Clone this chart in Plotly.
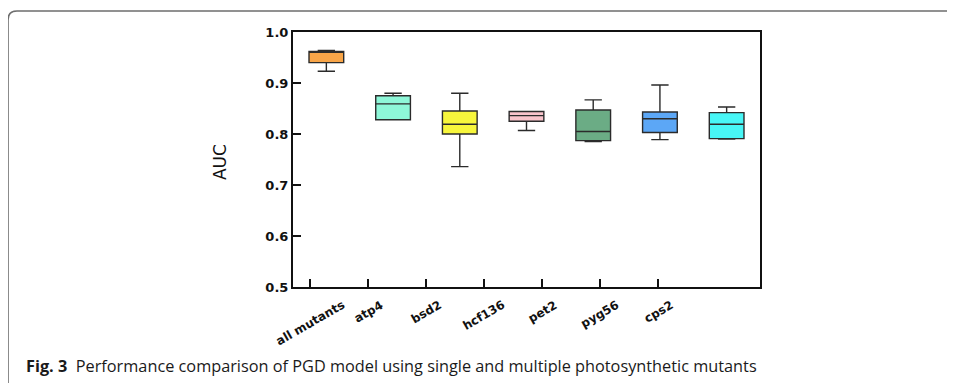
import numpy as np
import plotly.graph_objects as go

categories = ["all mutants", "atp4", "bsd2", "hcf136", "pet2", "pyg56", "cps2"]
lower_whisker = [0.923, 0.828, 0.736, 0.807, 0.785, 0.789, 0.790]
q1_values = [0.940, 0.828, 0.800, 0.825, 0.787, 0.803, 0.791]
median_values = [0.961, 0.859, 0.819, 0.836, 0.805, 0.830, 0.819]
q3_values = [0.962, 0.875, 0.845, 0.844, 0.847, 0.843, 0.842]
upper_whisker = [0.964, 0.880, 0.880, 0.844, 0.867, 0.896, 0.853]
box_colors = ["#F8A548", "#8EF7D8", "#F7F63C", "#F8C3CB", "#6BAC85", "#5CA7F6", "#48F6F6"]
y_ticks = [0.5, 0.6, 0.7, 0.8, 0.9, 1.0]

# page body has an 8px margin: work in screen pixels and shift by OFF
OFF = 8
W, H = 955 - OFF, 383 - OFF
ML, MR, MT, MB = 293 - OFF, 203 - OFF, 32 - OFF, 96
PW, PH = W - ML - MR, H - MT - MB


def px_x(p):
    return (p - OFF - ML) / PW


def px_y(p):
    return (H - MB - (p - OFF)) / PH


fig = go.Figure()
for i, cat in enumerate(categories):
    fig.add_trace(go.Box(
        x=[i + 1],
        q1=[q1_values[i]], median=[median_values[i]], q3=[q3_values[i]],
        lowerfence=[lower_whisker[i]], upperfence=[upper_whisker[i]],
        name=cat, boxpoints=False, width=0.52, whiskerwidth=0.5,
        fillcolor=box_colors[i],
        line=dict(color="#2b2b2b", width=1.4),
        showlegend=False, hoverinfo="skip",
    ))

# tick marks (misaligned with boxes as in the original figure)
tick_pos = list(np.linspace(0.76, 5.975, len(categories)))

annotations = []
for tp, cat in zip(tick_pos, categories):
    annotations.append(dict(
        x=tp, y=px_y(295), xref="x", yref="paper", text=cat, showarrow=False,
        textangle=-30, xanchor="center", yanchor="top",
        font=dict(family="DejaVu Sans", size=12, color="#111", weight="bold"),
    ))

annotations.append(dict(
    x=px_x(220), y=0.49, xref="paper", yref="paper", text="AUC", showarrow=False,
    textangle=-90, xanchor="center", yanchor="middle",
    font=dict(family="DejaVu Sans", size=17, color="#111"),
))

annotations.append(dict(
    x=px_x(24), y=px_y(366), xref="paper", yref="paper",
    text="<b>Fig. 3</b>\u00a0\u00a0Performance comparison of PGD model using single and multiple photosynthetic mutants",
    showarrow=False, xanchor="left", yanchor="middle",
    font=dict(family="Open Sans", size=16.3, color="#1a1a1a"),
))

# rounded frame around figure (top + left edges)
x0, yt = px_x(8), px_y(11)
xr, yb = px_x(960), px_y(390)
rx, ry = 9 / PW, 9 / PH
frame_path = f"M {x0},{yb} L {x0},{yt - ry} Q {x0},{yt} {x0 + rx},{yt} L {xr},{yt}"

fig.update_layout(
    width=W, height=H,
    margin=dict(l=ML, r=MR, t=MT, b=MB),
    paper_bgcolor="white", plot_bgcolor="white",
    showlegend=False,
    annotations=annotations,
    shapes=[dict(type="path", path=frame_path, xref="paper", yref="paper",
                 line=dict(color="#6e6e6e", width=1.6))],
    xaxis=dict(
        range=[0.5, 7.5], tickmode="array", tickvals=tick_pos, ticktext=[""] * len(categories),
        showticklabels=False, ticks="inside", ticklen=8, tickwidth=1.5, tickcolor="#111",
        showline=True, linecolor="#111", linewidth=2, mirror=True,
        showgrid=False, zeroline=False,
    ),
    yaxis=dict(
        range=[0.5, 1.0], tickmode="array", tickvals=y_ticks, tickformat=".1f",
        ticks="inside", ticklen=8, tickwidth=1.5, tickcolor="#111",
        showline=True, linecolor="#111", linewidth=2, mirror=True,
        showgrid=False, zeroline=False,
        tickfont=dict(family="DejaVu Sans", size=13, color="#111", weight="bold"),
    ),
)

fig.write_html("out.html")
